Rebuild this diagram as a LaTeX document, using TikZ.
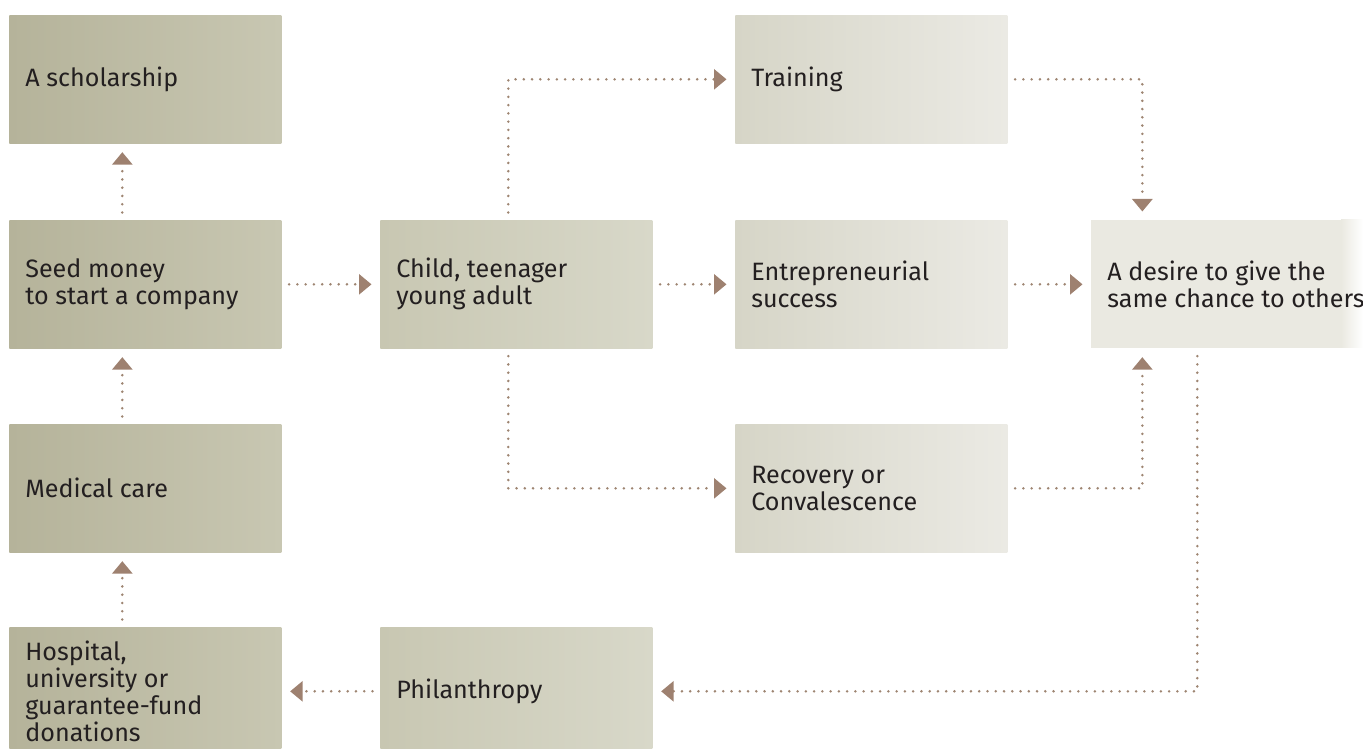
\documentclass[tikz,border=0pt]{standalone}
\usepackage{fontspec}
\setmainfont{Fira Sans}
\usetikzlibrary{arrows.meta}
\definecolor{olivedk}{HTML}{B5B39A}
\definecolor{olivemd}{HTML}{C8C7B2}
\definecolor{olivelt}{HTML}{D8D8C9}
\definecolor{paledk}{HTML}{D6D5C7}
\definecolor{palelt}{HTML}{EBEAE4}
\definecolor{paper}{HTML}{EAE9E1}
\definecolor{dotbrown}{HTML}{9E8572}
\definecolor{tipbrown}{HTML}{9E8170}
\definecolor{ink}{HTML}{231F20}
\tikzset{
  box/.style={minimum width=5.44cm, minimum height=2.56cm, inner sep=0pt, anchor=north west},
  lbl/.style={anchor=west, align=left, text=ink, font=\fontsize{14.3}{15.4}\selectfont, inner sep=0pt},
  flow/.style={draw=dotbrown, line width=1.6pt, line cap=round, dash pattern=on 0pt off 4.7pt,
    -{Triangle[width=0.4cm, length=0.25cm, fill=tipbrown, color=tipbrown, line cap=butt]},
    shorten <=0.15cm, shorten >=0.17cm},
}
\begin{document}
\begin{tikzpicture}[x=0.02cm, y=-0.02cm]
\clip (0,0) rectangle (1363,749);
\def\stage#1#2#3#4#5#6{
\node[box, left color=#4, right color=#5] (#1) at (#2,#3) {};
\node[lbl] at ([xshift=0.32cm]#1.west) {#6};
}
\stage{scholar}{9}{15}{olivedk}{olivemd}{A scholarship}
\stage{seed}{9}{220}{olivedk}{olivemd}{Seed money\\to start a company}
\stage{medical}{9}{424}{olivedk}{olivemd}{Medical care}
\stage{hospital}{9}{627}{olivedk}{olivemd}{Hospital,\\university or\\guarantee-fund\\donations}
\stage{child}{380}{220}{olivemd}{olivelt}{Child, teenager\\young adult}
\stage{philan}{380}{627}{olivemd}{olivelt}{Philanthropy}
\stage{training}{735}{15}{paledk}{palelt}{Training}
\stage{success}{735}{220}{paledk}{palelt}{Entrepreneurial\\success}
\stage{recovery}{735}{424}{paledk}{palelt}{Recovery or\\Convalescence}
\node[box, fill=paper] (desire) at (1091,220) {};
\fill[left color=paper, right color=white] (1341,220) rectangle (1363,348);
\node[lbl] at ([xshift=0.32cm]desire.west) {A desire to give the\\same chance to others};

\draw[flow] ([xshift=-0.46cm]seed.north) -- ([xshift=-0.46cm]scholar.south);
\draw[flow] ([xshift=-0.46cm]medical.north) -- ([xshift=-0.46cm]seed.south);
\draw[flow] ([xshift=-0.46cm]hospital.north) -- ([xshift=-0.46cm]medical.south);
\draw[flow] (seed.east) -- (child.west);
\draw[flow] ([xshift=-0.16cm]child.north) |- (training.west);
\draw[flow] (child.east) -- (success.west);
\draw[flow] ([xshift=-0.16cm]child.south) |- (recovery.west);
\draw[flow] (training.east) -| ([xshift=-1.7cm]desire.north);
\draw[flow] (success.east) -- (desire.west);
\draw[flow] (recovery.east) -| ([xshift=-1.7cm]desire.south);
\draw[flow] ([xshift=-0.6cm]desire.south) |- (philan.east);
\draw[flow] (philan.west) -- (hospital.east);
\end{tikzpicture}
\end{document}
